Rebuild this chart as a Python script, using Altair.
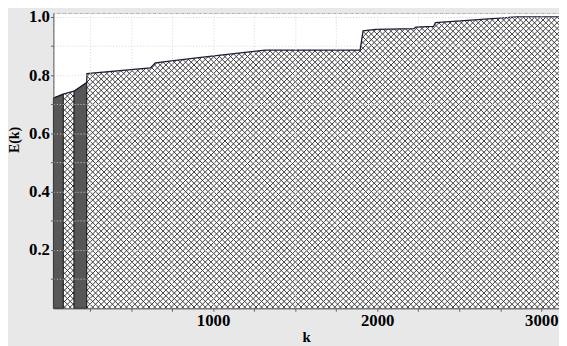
import altair as alt
import pandas as pd

# ---- data ----
# step curve E(k)
curve_k = [27, 87, 152, 230, 231, 618, 648, 899, 1100, 1317, 1896, 1914, 1991, 2224, 2236, 2343, 2355, 2851, 3108]
curve_e = [0.721, 0.735, 0.745, 0.775, 0.805, 0.825, 0.842, 0.859, 0.872, 0.886, 0.886, 0.952, 0.957, 0.960, 0.965, 0.967, 0.980, 1.0, 1.0]

# dark grey bars at the start
bar_id = ["a", "a", "b", "b"]
bar_k = [27, 87, 152, 230]
bar_e = [0.721, 0.735, 0.745, 0.775]

x_ticks = [250, 500, 750, 1000, 1250, 1500, 1750, 2000, 2250, 2500, 2750, 3000]
y_ticks = [0.1, 0.2, 0.3, 0.4, 0.5, 0.6, 0.7, 0.8, 0.9, 1.0]
y_labels = ["0.2", "0.4", "0.6", "0.8", "1.0"]

curve = pd.DataFrame({"k": curve_k, "E": curve_e})
bars = pd.DataFrame({"bar": bar_id, "k": bar_k, "E": bar_e})
pattern_row = pd.DataFrame({"pattern": ["crosshatch"]})

PLOT_W, PLOT_H = 512, 299
Y_TOP = 1.013

# ---- crosshatch fill pattern as a symbol path (styling only) ----
HALF = 262.0          # half side of the square pattern tile, px
PITCH = 5.7           # horizontal distance between parallel hatch lines, px


def crosshatch_path(step):
    segs = []
    n = int(4.0 / step) + 1
    for i in range(n + 1):
        c = -2.0 + i * step
        x1 = max(-1.0, c - 1.0)
        x2 = min(1.0, c + 1.0)
        if x2 - x1 <= 1e-6:
            continue
        segs.append("M%.4f,%.4fL%.4f,%.4f" % (x1, x1 - c, x2, x2 - c))
        segs.append("M%.4f,%.4fL%.4f,%.4f" % (x1, c - x1, x2, c - x2))
    return "".join(segs)


HATCH = crosshatch_path(PITCH / HALF)

x_enc = alt.X(
    "k:Q",
    scale=alt.Scale(domain=[27, 3108], nice=False, zero=False),
    axis=alt.Axis(
        values=x_ticks,
        format="d",
        labelExpr="datum.value % 1000 == 0 ? datum.label : ''",
        title="k",
        titleBaseline="alphabetic",
        titleY=34,
        labelPadding=1,
        labelFlush=False,
        labelOverlap=False,
        zindex=1,
    ),
)
y_enc = alt.Y(
    "E:Q",
    stack=None,
    scale=alt.Scale(domain=[0, Y_TOP], nice=False, zero=True),
    axis=alt.Axis(
        values=y_ticks,
        format=".1f",
        labelExpr="indexof(" + str(y_labels) + ", datum.label) >= 0 ? datum.label : ''",
        title="E(k)",
        titleBaseline="alphabetic",
        titleFontSize=14,
        titleX=-35,
        titleY=128,
        labelPadding=1,
        labelOverlap=False,
        zindex=1,
    ),
)

hatch = alt.Chart(pattern_row).mark_point(
    shape=HATCH, filled=False, stroke="#383838", strokeWidth=1, opacity=1, clip=True,
    size=(2 * HALF) ** 2,
).encode(x=alt.value(PLOT_W / 2), y=alt.value(PLOT_H / 2))

base = alt.Chart(curve).encode(x=x_enc, y=y_enc)

# white cover above the curve, so the hatch only shows below E(k)
cover = base.mark_area(color="white", interpolate="linear").encode(y2=alt.value(0.5))

dark = alt.Chart(bars).mark_area(fill="#575757", stroke="#111111", strokeWidth=1).encode(
    x=x_enc, y=y_enc, detail="bar:N"
)
top_line = base.mark_line(color="#1c1c38", strokeWidth=1.3)

chart = (
    alt.layer(hatch, cover, dark, top_line)
    .properties(
        width=PLOT_W,
        height=PLOT_H,
        autosize=alt.AutoSizeParams(type="none"),
        padding={"left": 46, "top": 3, "right": 0, "bottom": 36},
        background="#e8e8e8",
    )
    .configure_view(fill="white", stroke="#b4b4b4")
    .configure_axis(
        labelFont="Liberation Serif",
        labelFontWeight="bold",
        labelFontSize=17,
        labelColor="black",
        titleFont="Liberation Serif",
        titleFontWeight="bold",
        titleFontSize=15,
        titleColor="black",
        gridColor="#d4d4d4",
        gridDash=[1, 2],
        tickColor="#666666",
        tickSize=3,
        domainColor="#555555",
    )
)

chart.save("out.html", embed_options={"renderer": "svg", "actions": False})
